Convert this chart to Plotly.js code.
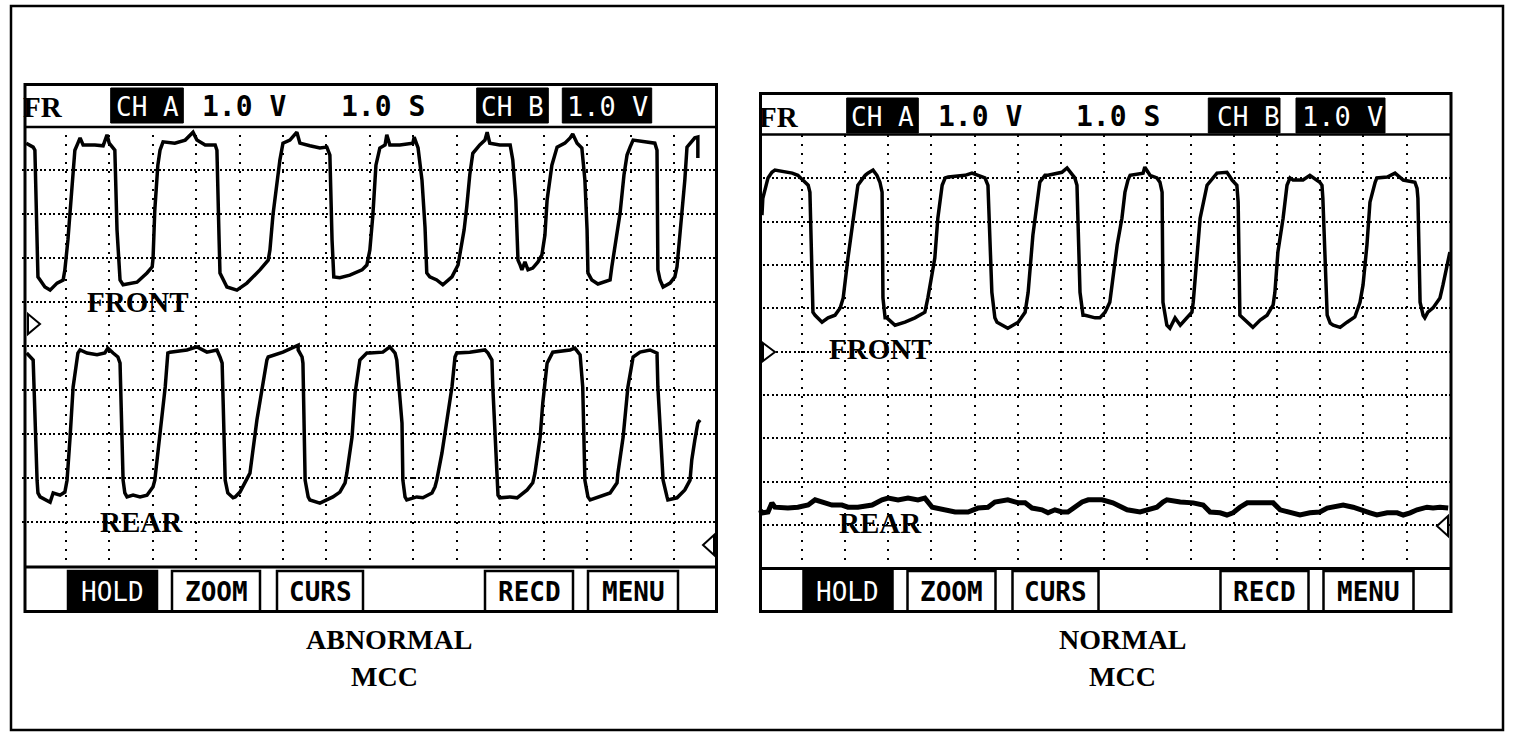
<!DOCTYPE html>
<html>
<head>
<meta charset="utf-8">
<script src="https://cdn.plot.ly/plotly-3.0.1.min.js"></script>
<style>html,body{margin:0;padding:0;background:#fff;}#chart{width:1520px;height:744px;}</style>
</head>
<body>
<div id="chart"></div>
<script>
// ---- DATA (x: time in divisions, y: screen divisions from bottom) ----
const abnormalFrontX = [0.09,0.25,0.29,0.34,0.36,0.41,0.52,0.64,0.80,0.94,0.98,1.05,1.10,1.17,1.21,1.28,1.33,1.40,1.67,1.86,1.95,2.00,2.09,2.13,2.18,2.25,2.32,2.48,2.64,2.87,2.99,3.01,3.05,3.12,3.17,3.24,3.51,3.75,3.93,4.02,4.21,4.44,4.48,4.53,4.55,4.71,4.94,5.17,5.36,5.47,5.66,5.70,5.77,5.86,5.93,6.00,6.16,6.32,6.39,6.62,6.85,7.01,7.08,7.13,7.17,7.31,7.54,7.82,7.93,8.00,8.07,8.14,8.23,8.35,8.39,8.46,8.69,8.99,9.02,9.11,9.20,9.27,9.31,9.38,9.54,9.68,9.89,10.03,10.07,10.17,10.23,10.30,10.37,10.53,10.65,10.70,10.76,10.99,11.23,11.29,11.36,11.41,11.46,11.50,11.57,11.64,11.75,11.87,11.96,12.03,12.08,12.15,12.19,12.31,12.49,12.61,12.67,12.77,12.88,12.95,13.00,13.02,13.11,13.25,13.41,13.53,13.57,13.66,13.76,13.85,13.92,13.99,14.06,14.33,14.56,14.61,14.63,14.68,14.75,14.91,15.02,15.07,15.14,15.18,15.25,15.30,15.41,15.48,15.55,15.55];
const abnormalFrontY = [9.61,9.52,9.45,7.41,6.57,6.50,6.34,6.27,6.43,6.50,6.73,7.41,8.02,8.89,9.45,9.61,9.73,9.57,9.57,9.55,9.80,9.61,9.50,9.45,7.64,6.50,6.39,6.43,6.45,6.66,6.80,7.00,8.09,9.11,9.45,9.64,9.61,9.68,9.86,9.68,9.57,9.57,9.45,7.41,6.66,6.34,6.27,6.43,6.61,6.73,6.95,7.18,7.98,8.77,9.23,9.61,9.68,9.86,9.61,9.55,9.50,9.52,9.34,7.41,6.57,6.55,6.61,6.73,6.84,7.18,7.98,9.11,9.50,9.57,9.80,9.57,9.57,9.61,9.75,9.50,8.77,7.70,6.66,6.57,6.50,6.39,6.57,6.84,7.07,7.64,8.16,8.89,9.38,9.57,9.68,9.86,9.61,9.57,9.57,9.23,8.32,6.95,6.84,6.73,6.91,6.73,6.77,6.91,7.07,7.52,8.32,8.89,9.11,9.52,9.61,9.73,9.82,9.61,9.50,8.77,7.64,6.66,6.50,6.41,6.45,6.50,6.80,7.41,8.02,8.89,9.34,9.52,9.68,9.64,9.61,9.45,6.73,6.50,6.34,6.43,6.57,6.80,7.52,8.02,8.77,9.52,9.64,9.73,9.75,9.27];

const abnormalRearX = [0.10,0.25,0.34,0.36,0.41,0.64,0.71,0.87,0.98,1.03,1.10,1.17,1.28,1.33,1.49,1.72,1.90,1.97,2.09,2.20,2.25,2.32,2.36,2.41,2.55,2.71,2.87,3.01,3.05,3.17,3.29,3.35,3.40,3.79,4.02,4.25,4.48,4.55,4.60,4.67,4.73,4.85,4.90,5.01,5.24,5.40,5.52,5.63,5.66,6.00,6.35,6.35,6.44,6.46,6.51,6.58,6.62,6.85,7.15,7.31,7.43,7.47,7.59,7.66,7.77,7.93,8.00,8.30,8.46,8.58,8.62,8.74,8.76,8.81,8.85,9.08,9.22,9.43,9.50,9.54,9.66,9.77,9.89,9.96,10.00,10.30,10.65,10.72,10.81,10.83,10.93,10.95,10.99,11.23,11.39,11.62,11.75,11.80,11.92,11.98,12.08,12.19,12.21,12.61,12.72,12.84,12.90,12.95,13.02,13.07,13.30,13.53,13.69,13.71,13.83,13.94,14.06,14.22,14.45,14.61,14.63,14.75,14.84,14.86,15.07,15.25,15.37,15.41,15.48,15.55,15.60];
const abnormalRearY = [4.84,4.68,1.95,1.66,1.57,1.45,1.66,1.61,1.68,1.95,2.93,4.07,4.84,4.91,4.84,4.80,4.84,4.95,4.84,4.75,4.61,1.95,1.66,1.57,1.61,1.57,1.61,1.80,1.95,2.93,4.07,4.84,4.86,4.91,4.98,4.86,4.91,4.75,4.61,1.95,1.66,1.55,1.57,1.68,2.11,3.32,4.07,4.68,4.75,4.86,5.02,4.91,4.75,4.61,1.95,1.57,1.50,1.43,1.57,1.68,1.89,2.11,2.93,3.93,4.68,4.84,4.84,4.86,4.98,4.84,4.68,3.25,1.95,1.57,1.50,1.57,1.55,1.66,1.80,1.95,2.57,3.32,4.07,4.75,4.84,4.86,4.91,4.84,4.68,4.07,1.95,1.61,1.55,1.57,1.55,1.73,1.89,2.11,2.93,3.70,4.61,4.84,4.86,4.91,4.95,4.80,4.07,1.95,1.57,1.50,1.57,1.66,1.89,2.11,2.93,4.07,4.75,4.86,4.91,4.84,4.07,1.95,1.57,1.50,1.55,1.73,1.95,2.41,2.86,3.25,3.32];

const normalFrontX = [0.08,0.10,0.22,0.31,0.38,0.61,0.78,0.91,1.08,1.15,1.19,1.24,1.26,1.31,1.47,1.61,1.77,1.89,1.96,2.07,2.19,2.30,2.47,2.53,2.65,2.74,2.81,2.86,2.88,2.93,2.97,3.16,3.39,3.62,3.85,3.92,4.08,4.15,4.25,4.32,4.39,4.78,4.94,5.24,5.31,5.40,5.47,5.52,5.77,6.01,6.17,6.24,6.35,6.45,6.51,6.63,6.70,7.02,7.14,7.32,7.37,7.44,7.51,7.56,7.79,7.90,8.02,8.13,8.18,8.30,8.41,8.48,8.55,8.60,8.90,8.94,9.06,9.22,9.29,9.34,9.36,9.45,9.52,9.64,9.76,9.92,10.03,10.06,10.15,10.22,10.38,10.57,10.61,10.84,10.96,11.07,11.10,11.14,11.21,11.31,11.44,11.61,11.77,11.91,11.95,12.02,12.14,12.23,12.30,12.37,12.60,12.76,12.99,13.04,13.06,13.16,13.23,13.30,13.46,13.62,13.80,13.92,13.99,14.08,14.15,14.27,14.31,14.55,14.73,14.92,15.19,15.24,15.26,15.31,15.38,15.42,15.49,15.61,15.77,15.84,15.93,16.00];
const normalFrontY = [8.15,8.54,9.01,9.14,9.19,9.14,9.12,9.07,8.91,8.84,8.68,6.37,5.91,5.84,5.68,5.78,5.84,6.01,6.24,7.16,8.08,8.84,9.07,9.12,9.19,9.07,8.91,8.68,6.24,5.78,5.78,5.61,5.68,5.78,5.91,6.24,7.16,8.08,8.84,9.01,9.03,9.07,9.12,9.01,8.84,6.37,5.78,5.68,5.54,5.68,5.91,6.37,7.69,8.45,8.91,9.07,9.07,9.14,9.24,9.01,8.84,6.37,5.84,5.84,5.78,5.78,5.91,6.14,6.54,7.46,8.08,8.68,8.96,9.07,9.12,9.26,9.07,9.01,8.91,8.68,6.14,5.61,5.54,5.78,5.61,5.78,5.91,6.14,7.30,8.08,8.84,9.07,9.12,9.14,8.96,8.84,8.45,5.84,5.78,5.68,5.56,5.73,5.84,6.08,6.37,7.30,8.08,8.84,9.01,8.96,8.96,9.07,8.91,8.84,8.54,5.84,5.66,5.61,5.56,5.68,5.80,6.14,6.54,7.46,8.45,8.91,9.01,9.03,9.12,8.96,8.91,8.77,8.54,6.14,5.84,5.78,5.91,6.01,6.24,6.54,7.00,7.30];

const normalRearX = [0.02,0.10,0.22,0.31,0.38,0.68,0.91,1.15,1.31,1.47,1.70,1.93,2.07,2.30,2.63,2.86,3.00,3.23,3.46,3.69,3.85,4.02,4.25,4.55,4.85,5.08,5.31,5.47,5.77,6.01,6.17,6.33,6.56,6.70,6.86,7.02,7.16,7.32,7.49,7.63,7.95,8.20,8.53,8.83,9.06,9.22,9.36,9.45,9.76,10.06,10.29,10.45,10.68,10.84,10.98,11.14,11.31,11.54,11.77,11.91,12.07,12.30,12.53,12.76,12.99,13.16,13.30,13.53,13.76,13.99,14.15,14.31,14.55,14.78,14.92,15.08,15.24,15.47,15.61,15.77,15.96];
const normalRearY = [1.35,1.28,1.30,1.51,1.41,1.39,1.41,1.46,1.58,1.53,1.46,1.46,1.41,1.41,1.46,1.58,1.62,1.58,1.62,1.58,1.62,1.41,1.35,1.30,1.30,1.39,1.41,1.53,1.58,1.51,1.51,1.39,1.35,1.28,1.35,1.30,1.30,1.41,1.53,1.58,1.58,1.51,1.35,1.30,1.35,1.41,1.53,1.58,1.53,1.51,1.46,1.30,1.28,1.23,1.28,1.41,1.51,1.51,1.53,1.51,1.35,1.28,1.23,1.28,1.30,1.39,1.41,1.46,1.41,1.35,1.28,1.23,1.28,1.28,1.23,1.28,1.35,1.41,1.39,1.41,1.39];

const headerLabels = ["FR", "CH A", "1.0 V", "1.0 S", "CH B", "1.0 V"];
const buttonLabels = ["HOLD", "ZOOM", "CURS", "RECD", "MENU"];
const channelLabels = ["FRONT", "REAR"];
const captionsLeft = ["ABNORMAL", "MCC"];
const captionsRight = ["NORMAL", "MCC"];

// ---- LAYOUT HELPERS ----
const W = 1520, H = 744;
const PX = x => x / W;
const PY = y => 1 - y / H;
const shapes = [];
const annotations = [];
function rect(x0, y0, x1, y1, lw, fill) {
  shapes.push({type:'rect', xref:'paper', yref:'paper', x0:PX(x0), x1:PX(x1), y0:PY(y1), y1:PY(y0),
    line:{color:'#000', width:lw}, fillcolor: fill || 'rgba(0,0,0,0)', layer:'above'});
}
function hline(x0, x1, y, lw) {
  shapes.push({type:'line', xref:'paper', yref:'paper', x0:PX(x0), x1:PX(x1), y0:PY(y), y1:PY(y), line:{color:'#000', width:lw}, layer:'above'});
}
function tri(pts) {
  const d = 'M' + pts.map(p => PX(p[0]) + ',' + PY(p[1])).join(' L') + ' Z';
  shapes.push({type:'path', xref:'paper', yref:'paper', path:d, line:{color:'#000', width:2}, fillcolor:'#fff', layer:'above'});
}
function txt(t, x, y, family, size, color) {
  annotations.push({text:t, xref:'paper', yref:'paper', x:PX(x), y:PY(y), xanchor:'center', yanchor:'middle',
    showarrow:false, font:{family:family, size:size, color:color || '#000'}});
}
const MONO = 'DejaVu Sans Mono, monospace';
const SERIF = 'Liberation Serif, Times New Roman, serif';

// outer frame
rect(11, 6, 1503, 730, 2.5);

function panel(dx, top, hdr, bot, right, hdrBoxes) {
  rect(dx + 25, top, right, 611.5, 3);
  hline(dx + 25, right, hdr, 2.5);
  hline(dx + 25, right, bot, 3);
  hdrBoxes.forEach(b => rect(b[0], b[1], b[2], b[3], 1, '#000'));
  const btn = [[68,157],[172,260],[277,363],[485,573],[588,678]];
  btn.forEach((b, i) => {
    rect(dx + b[0], 571, dx + b[1], 611.5, 2.5, i === 0 ? '#000' : null);
    txt(i === 0 ? buttonLabels[i] : '<b>' + buttonLabels[i] + '</b>', dx + (b[0] + b[1]) / 2, 592, MONO, 26, i === 0 ? '#fff' : '#000');
  });
}
panel(0, 84.5, 127, 567, 716.5,
  [[110.7,88,183.3,123],[476.7,88,548.3,123],[562.3,88,651.7,123]]);
panel(735.5, 93.5, 134.5, 568.5, 1451,
  [[846.7,98,918.3,133],[1208.3,98,1280,133],[1296,98,1385,133]]);

function header(dx, y) {
  txt('<b>' + headerLabels[0] + '</b>', dx + 43, y, SERIF, 29);
  txt(headerLabels[1], dx + 147, y, MONO, 26, '#fff');
  txt('<b>' + headerLabels[2] + '</b>', dx + 244, y, MONO, 28);
  txt('<b>' + headerLabels[3] + '</b>', dx + 382.5, y, MONO, 28);
  txt(headerLabels[4], dx + 512.5, y, MONO, 26, '#fff');
  txt(headerLabels[5], dx + 607, y, MONO, 27, '#fff');
}
header(0, 107);
header(735.5, 117);

tri([[28,314],[40,324],[28,334]]);
tri([[714,535],[703,545],[714,555]]);
tri([[763,343],[775,352],[763,361]]);
tri([[1448,516],[1437,526],[1448,536]]);

txt('<b>' + channelLabels[0] + '</b>', 138, 302, SERIF, 29);
txt('<b>' + channelLabels[1] + '</b>', 141.5, 522, SERIF, 29);
txt('<b>' + channelLabels[0] + '</b>', 880, 349, SERIF, 29);
txt('<b>' + channelLabels[1] + '</b>', 880, 523, SERIF, 29);

txt('<b>' + captionsLeft[0] + '</b>', 389, 639, SERIF, 28);
txt('<b>' + captionsLeft[1] + '</b>', 384, 676, SERIF, 28);
txt('<b>' + captionsRight[0] + '</b>', 1123, 639, SERIF, 28);
txt('<b>' + captionsRight[1] + '</b>', 1122, 676, SERIF, 28);

// ---- TRACES ----
const lineStyle = w => ({color:'#000', width:w, shape:'linear'});
const traces = [
  {x:abnormalFrontX, y:abnormalFrontY, xaxis:'x', yaxis:'y', mode:'lines', line:lineStyle(3.5), hoverinfo:'skip'},
  {x:abnormalRearX, y:abnormalRearY, xaxis:'x', yaxis:'y', mode:'lines', line:lineStyle(3.5), hoverinfo:'skip'},
  {x:normalFrontX, y:normalFrontY, xaxis:'x2', yaxis:'y2', mode:'lines', line:lineStyle(3.5), hoverinfo:'skip'},
  {x:normalRearX, y:normalRearY, xaxis:'x2', yaxis:'y2', mode:'lines', line:lineStyle(5), hoverinfo:'skip'}
];

const xAx = dom => ({domain:dom, range:[0,16], dtick:1, tick0:0, showgrid:true, gridcolor:'#000', gridwidth:2,
  griddash:'2px,7px', zeroline:false, showticklabels:false, ticks:'', showline:false, fixedrange:true});
const yAx = dom => ({domain:dom, range:[0,10], dtick:1, tick0:0, showgrid:true, gridcolor:'#000', gridwidth:2,
  griddash:'2px,2.4px', zeroline:false, showticklabels:false, ticks:'', showline:false, fixedrange:true});

const layout = {
  width:W, height:H, margin:{l:0, r:0, t:0, b:0}, paper_bgcolor:'#fff', plot_bgcolor:'#fff',
  showlegend:false,
  xaxis: Object.assign(xAx([PX(22.3), PX(717.4)]), {anchor:'y'}),
  yaxis: Object.assign(yAx([PY(566), PY(126)]), {anchor:'x'}),
  xaxis2: Object.assign(xAx([PX(758.5), PX(1449.9)]), {anchor:'y2'}),
  yaxis2: Object.assign(yAx([PY(568.3), PY(135)]), {anchor:'x2'}),
  shapes: shapes,
  annotations: annotations
};

Plotly.newPlot('chart', traces, layout, {staticPlot:true, displayModeBar:false});
</script>
</body>
</html>
